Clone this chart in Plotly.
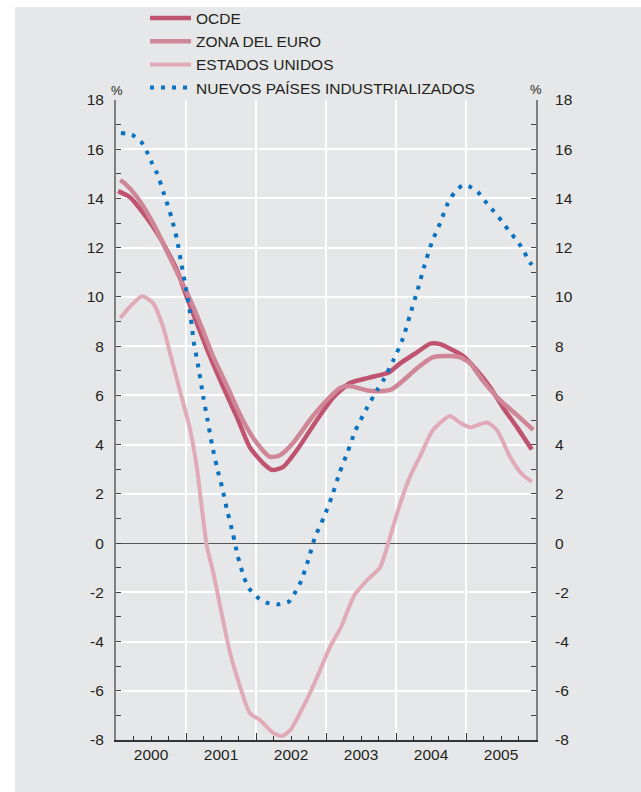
import plotly.graph_objects as go

# ---- data (decimal years, % values) ----
ocde_t = [2000.03, 2000.20, 2000.39, 2000.63, 2000.87, 2001.01, 2001.16, 2001.34, 2001.53, 2001.73,
          2001.91, 2002.10, 2002.23, 2002.39, 2002.59, 2002.87, 2003.10, 2003.34, 2003.59, 2003.81,
          2003.91, 2004.06, 2004.30, 2004.49, 2004.63, 2004.77, 2004.96, 2005.16, 2005.34, 2005.53,
          2005.73, 2005.94]
ocde_v = [14.3, 14.05, 13.4, 12.4, 11.1, 10.0, 8.9, 7.6, 6.35, 5.1,
          3.9, 3.25, 2.97, 3.1, 3.8, 5.0, 5.9, 6.5, 6.7, 6.85,
          6.95, 7.3, 7.75, 8.1, 8.08, 7.9, 7.6, 7.0, 6.35, 5.5,
          4.7, 3.8]

euro_t = [2000.06, 2000.13, 2000.30, 2000.53, 2000.77, 2001.01, 2001.20, 2001.39, 2001.59, 2001.81,
          2002.01, 2002.20, 2002.34, 2002.53, 2002.77, 2003.01, 2003.20, 2003.34, 2003.59, 2003.81,
          2003.94, 2004.10, 2004.30, 2004.53, 2004.77, 2004.91, 2005.06, 2005.24, 2005.49, 2005.73,
          2005.96]
euro_v = [14.75, 14.6, 14.06, 13.0, 11.6, 10.2, 8.94, 7.56, 6.35, 5.0,
          4.07, 3.5, 3.57, 4.07, 5.0, 5.8, 6.3, 6.38, 6.2, 6.18,
          6.25, 6.6, 7.1, 7.55, 7.6, 7.55, 7.3, 6.6, 5.8, 5.2,
          4.6]

us_t = [2000.06, 2000.20, 2000.37, 2000.53, 2000.67, 2000.81, 2000.94, 2001.06, 2001.16, 2001.21,
        2001.30, 2001.39, 2001.49, 2001.63, 2001.77, 2001.91, 2002.06, 2002.24, 2002.37, 2002.49,
        2002.63, 2002.77, 2002.91, 2003.06, 2003.20, 2003.41, 2003.59, 2003.77, 2003.89, 2004.03,
        2004.20, 2004.34, 2004.53, 2004.77, 2004.91, 2005.06, 2005.30, 2005.44, 2005.63, 2005.80,
        2005.94]
us_v = [9.14, 9.6, 10.03, 9.75, 8.8, 7.3, 5.9, 4.6, 2.97, 1.8,
        -0.16, -1.2, -2.6, -4.47, -5.8, -6.9, -7.2, -7.7, -7.84, -7.6,
        -6.9, -6.1, -5.2, -4.2, -3.5, -2.1, -1.5, -1.0, 0.0, 1.34,
        2.7, 3.5, 4.6, 5.16, 4.9, 4.7, 4.9, 4.6, 3.5, 2.8,
        2.5]

npi_t = [2000.07, 2000.23, 2000.36, 2000.44, 2000.51, 2000.59, 2000.69, 2000.79, 2000.87, 2000.93,
         2000.99, 2001.07, 2001.11, 2001.17, 2001.25, 2001.31, 2001.37, 2001.44, 2001.52, 2001.59,
         2001.67, 2001.74, 2001.83, 2001.90, 2002.01, 2002.15, 2002.32, 2002.47, 2002.56, 2002.64,
         2002.75, 2002.84, 2002.97, 2003.09, 2003.19, 2003.31, 2003.42, 2003.57, 2003.73, 2003.82,
         2003.97, 2004.10, 2004.20, 2004.31, 2004.41, 2004.51, 2004.63, 2004.74, 2004.84, 2004.96,
         2005.06, 2005.17, 2005.27, 2005.39, 2005.51, 2005.61, 2005.71, 2005.81, 2005.89, 2005.94]
npi_v = [16.66, 16.58, 16.3, 15.9, 15.46, 15.0, 14.15, 13.25, 12.35, 11.4,
         10.5, 9.13, 8.18, 7.26, 5.88, 4.96, 4.02, 3.1, 2.21, 1.3,
         0.39, -0.53, -1.4, -1.84, -2.18, -2.42, -2.49, -2.38, -2.0, -1.57,
         -0.66, 0.22, 1.05, 1.94, 2.83, 3.71, 4.57, 5.41, 6.22, 6.62,
         7.47, 8.32, 9.27, 10.3, 11.3, 12.2, 13.0, 13.8, 14.26, 14.55,
         14.47, 14.26, 13.9, 13.5, 13.08, 12.7, 12.35, 11.95, 11.5, 11.3]

series_names = ["OCDE", "ZONA DEL EURO", "ESTADOS UNIDOS", "NUEVOS PAÍSES INDUSTRIALIZADOS"]
year_ticks = [2000, 2001, 2002, 2003, 2004, 2005, 2006]
year_labels = ["2000", "2001", "2002", "2003", "2004", "2005"]
y_ticks = list(range(-8, 19, 2))
y_labels = [str(v) for v in y_ticks]

# ---- style ----
BG = "#e6e7e8"
TXT = "#231f20"
FONT = "Liberation Sans, Arial, sans-serif"
W, H = 641, 792
L, R, T, B = 116, 105, 100, 52
PW, PH = W - L - R, H - T - B

fig = go.Figure()
fig.add_trace(go.Scatter(x=ocde_t, y=ocde_v, name=series_names[0], mode="lines",
                         line=dict(color="#bf5470", width=4.5, shape="spline", smoothing=0.6)))
fig.add_trace(go.Scatter(x=euro_t, y=euro_v, name=series_names[1], mode="lines",
                         line=dict(color="#cf8696", width=4.5, shape="spline", smoothing=0.6)))
fig.add_trace(go.Scatter(x=us_t, y=us_v, name=series_names[2], mode="lines",
                         line=dict(color="#e0abb7", width=4, shape="spline", smoothing=0.6)))
fig.add_trace(go.Scatter(x=npi_t, y=npi_v, name=series_names[3], mode="lines",
                         xaxis="x2", yaxis="y2",
                         line=dict(color="#0a72c0", width=4, dash="4px,7px", shape="spline", smoothing=0.6)))

fig.update_layout(
    width=W, height=H,
    margin=dict(l=L, r=R, t=T, b=B, pad=0, autoexpand=False),
    paper_bgcolor=BG, plot_bgcolor=BG,
    font=dict(family=FONT, size=15.5, color=TXT),
    showlegend=True,
    legend=dict(x=(145 - L) / PW, xanchor="left", y=(H - B - 1.5) / PH, yanchor="top",
                bgcolor="rgba(0,0,0,0)", itemwidth=41, font=dict(size=15.5, color=TXT),
                tracegroupgap=0),
    xaxis=dict(range=[2000, 2006], tickmode="array", tickvals=year_ticks, ticktext=[""] * 7,
               ticks="inside", ticklen=7, tickwidth=1.2, tickcolor="#333",
               showgrid=True, gridcolor="white", gridwidth=1.5,
               showline=True, linecolor="#333", linewidth=2, zeroline=False,
               minor=dict(dtick=0.25, tick0=2000, ticks="inside", ticklen=4, tickwidth=1,
                          tickcolor="#333", showgrid=False)),
    xaxis2=dict(range=[2000, 2006], overlaying="x", anchor="y2", side="bottom",
                tickmode="array", tickvals=[y + 0.5 for y in year_ticks[:-1]], ticktext=year_labels,
                ticks="", showgrid=False, showline=False, zeroline=False,
                tickfont=dict(size=15.5, color=TXT), ticklabelstandoff=3),
    yaxis=dict(range=[-8, 18], tickmode="array", tickvals=y_ticks, ticktext=y_labels,
               ticks="inside", ticklen=5, tickwidth=1.2, tickcolor="#444",
               showgrid=True, gridcolor="white", gridwidth=1.5,
               showline=True, linecolor="#7f7f7f", linewidth=2,
               zeroline=True, zerolinecolor="#555", zerolinewidth=1.2,
               ticklabelstandoff=7,
               minor=dict(dtick=1, tick0=0, ticks="inside", ticklen=5, tickwidth=1.2,
                          tickcolor="#444", showgrid=False)),
    yaxis2=dict(range=[-8, 18], overlaying="y", anchor="x2", side="right",
                tickmode="array", tickvals=y_ticks, ticktext=y_labels,
                ticks="inside", ticklen=5, tickwidth=1.2, tickcolor="#444",
                showgrid=False, showline=True, linecolor="#7f7f7f", linewidth=2,
                zeroline=False, ticklabelstandoff=14,
                minor=dict(dtick=1, tick0=0, ticks="inside", ticklen=5, tickwidth=1.2,
                           tickcolor="#444", showgrid=False)),
    shapes=[
        dict(type="rect", xref="paper", yref="paper", x0=-0.4, x1=(15 - L) / PW, y0=-0.2, y1=1.3,
             fillcolor="white", line=dict(width=0), layer="below"),
        dict(type="rect", xref="paper", yref="paper", x0=-0.4, x1=1.4, y0=(H - B - 7) / PH, y1=1.3,
             fillcolor="white", line=dict(width=0), layer="below"),
    ],
    annotations=[
        dict(text="%", xref="paper", yref="paper", x=(117 - L) / PW, y=(H - B - 90) / PH,
             showarrow=False, xanchor="center", yanchor="middle", font=dict(size=13, color=TXT)),
        dict(text="%", xref="paper", yref="paper", x=(536 - L) / PW, y=(H - B - 89) / PH,
             showarrow=False, xanchor="center", yanchor="middle", font=dict(size=13, color=TXT)),
    ],
)

fig.write_html("out.html", config={"displayModeBar": False},
               post_script="document.body.style.margin='0';")
